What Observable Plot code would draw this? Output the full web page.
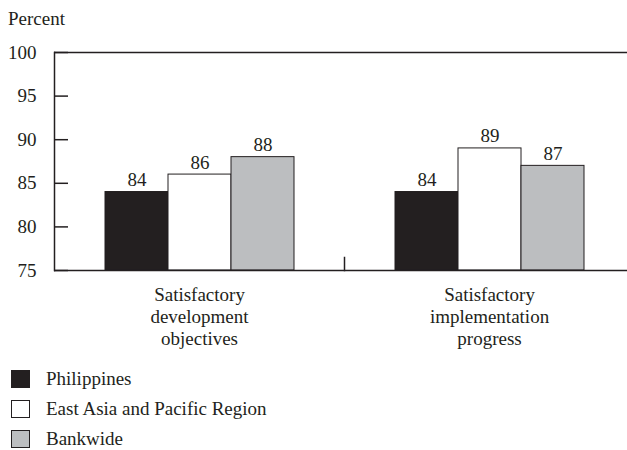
<!DOCTYPE html>
<html>
<head>
<meta charset="utf-8">
<script src="https://cdn.jsdelivr.net/npm/d3@7"></script>
<script src="https://cdn.jsdelivr.net/npm/@observablehq/plot@0.6"></script>
<style>
  html, body { margin: 0; padding: 0; background: #fff; overflow: hidden; }
  body { width: 627px; height: 450px; position: relative; font-family: "Liberation Serif", "DejaVu Serif", "Times New Roman", serif; color: #231f20; }
  #unit { position: absolute; left: 8px; top: 9px; font-size: 19px; line-height: 19px; }
  #chart { position: absolute; left: 0; top: 34px; }
  #legend { position: absolute; left: 11px; top: 370px; font-size: 19px; }
  .row { display: flex; align-items: center; height: 17px; margin-bottom: 13px; }
  .sw { width: 17px; height: 16px; border: 1px solid #231f20; margin-right: 16px; flex: none; }
</style>
</head>
<body>
<div id="unit">Percent</div>
<div id="chart"></div>
<div id="legend"></div>
<script>
// Rating categories and their axis labels
const groups = ["Satisfactory development objectives", "Satisfactory implementation progress"];
const groupLabels = ["Satisfactory\ndevelopment\nobjectives", "Satisfactory\nimplementation\nprogress"];

// Comparison series
const series = ["Philippines", "East Asia and Pacific Region", "Bankwide"];
const seriesColors = ["#231f20", "#ffffff", "#bcbec0"];

// Share of projects rated satisfactory (percent), one list per category
const devObjectives = [84, 86, 88];
const implProgress = [84, 89, 87];

// Value axis
const yDomain = [75, 100];
const yTicks = [75, 80, 85, 90, 95, 100];

const values = [devObjectives, implProgress];
const data = groups.flatMap((g, gi) =>
  series.map((s, si) => ({group: g, series: s, value: values[gi][si]}))
);

const ink = "#231f20";
const serif = '"Liberation Serif", "DejaVu Serif", "Times New Roman", serif';
const width = 627, height = 320, marginTop = 18, marginBottom = 84;
const plotHeight = height - marginTop - marginBottom;

const chart = Plot.plot({
  width, height,
  marginLeft: 54, marginRight: -7, marginTop, marginBottom,
  style: {fontFamily: serif, fontSize: "19px", color: ink, background: "transparent"},
  fx: {domain: groups, padding: 0, axis: null},
  x: {domain: series, paddingInner: 0, paddingOuter: 0.766, axis: null},
  y: {domain: yDomain},
  color: {domain: series, range: seriesColors},
  marks: [
    Plot.barY(data, {
      fx: "group", x: "series", y1: yDomain[0], y2: "value",
      fill: "series", stroke: ink, strokeWidth: 1
    }),
    Plot.text(data, {
      fx: "group", x: "series", y: "value", text: d => String(d.value),
      lineAnchor: "bottom", dy: -6, fill: ink
    }),
    Plot.text(groups, {
      fx: d => d, text: d => groupLabels[groups.indexOf(d)],
      frameAnchor: "bottom", lineAnchor: "top", dy: 15, lineHeight: 1.16, fill: ink
    }),
    // top and bottom rules of the frame
    Plot.ruleY([yDomain[0], yDomain[1]], {stroke: ink, strokeWidth: 1.5}),
    // left edge of the plot area
    Plot.frame({anchor: "left", facetAnchor: "left", stroke: ink, strokeWidth: 1.5}),
    // short divider between the two categories
    Plot.frame({anchor: "left", facetAnchor: "right", stroke: ink, strokeWidth: 1.5, insetTop: plotHeight - 13}),
    Plot.axisY({ticks: yTicks, tickSize: -14, text: null, label: null, stroke: ink, strokeWidth: 1.5}),
    Plot.axisY({ticks: yTicks, tickSize: 0, tickPadding: 18, fill: ink, label: null})
  ]
});
document.getElementById("chart").appendChild(chart);

const legend = document.getElementById("legend");
series.forEach((s, i) => {
  const row = document.createElement("div");
  row.className = "row";
  const sw = document.createElement("span");
  sw.className = "sw";
  sw.style.background = seriesColors[i];
  const label = document.createElement("span");
  label.textContent = s;
  row.appendChild(sw);
  row.appendChild(label);
  legend.appendChild(row);
});
</script>
</body>
</html>
